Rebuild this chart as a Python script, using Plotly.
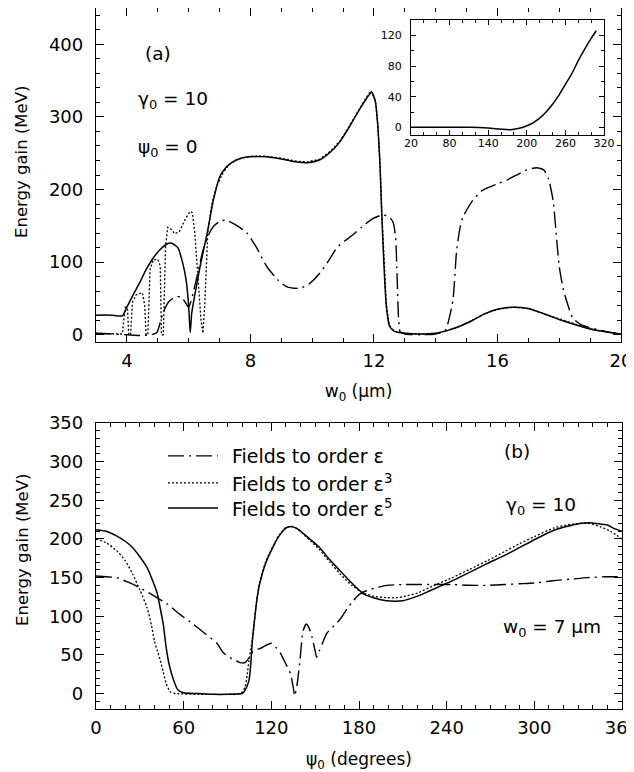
import plotly.graph_objects as go

# ---------------- Panel (a): energy gain vs w0 ----------------
w0_solid = [3.0, 3.5, 3.85, 4.0, 4.2, 4.42, 4.6, 4.81, 5.07, 5.3, 5.45, 5.65, 5.8, 5.92, 6.0, 6.05,
            6.1, 6.2, 6.37, 6.6, 6.8, 7.01, 7.2, 7.43, 7.7, 8.0, 8.5, 9.0, 9.5, 9.85, 10.25, 10.6,
            10.9, 11.2, 11.5, 11.77, 11.93, 12.05, 12.12, 12.2, 12.25, 12.32, 12.4, 12.5, 12.65,
            13.0, 13.5, 14.0, 14.4, 14.8, 15.2, 15.6, 16.0, 16.5, 17.0, 17.5, 18.0, 18.5, 19.0,
            19.5, 20.0]
gain_solid = [27, 27, 26, 38, 55, 72, 88, 103, 117, 125, 126, 120, 100, 75, 40, 3,
              30, 55, 94, 140, 185, 218, 230, 238, 243, 245, 245, 242, 238, 237, 241, 252,
              266, 286, 308, 326, 334, 320, 290, 230, 170, 100, 40, 12, 5,
              2, 1, 2, 6, 12, 20, 29, 35, 38, 36, 29, 21, 14, 8,
              4, 1]

w0_dot = [3.0, 3.5, 3.85, 3.9, 3.95, 4.02, 4.06, 4.12, 4.18, 4.3, 4.5, 4.58, 4.62, 4.68, 4.75,
          4.85, 5.0, 5.08, 5.12, 5.18, 5.25, 5.32, 5.4, 5.55, 5.7, 5.9, 6.05, 6.12, 6.2, 6.3,
          6.4, 6.46, 6.52, 6.62, 6.75, 6.9, 7.1, 7.3, 7.6, 8.0, 8.5, 9.0, 9.5, 9.85, 10.25,
          10.6, 10.9, 11.2, 11.5, 11.77, 11.9, 12.05, 12.12, 12.2, 12.25, 12.32, 12.4, 12.5,
          12.65, 13.0, 13.5, 14.0, 14.4, 14.8, 15.2, 15.6, 16.0, 16.5, 17.0, 17.5, 18.0, 18.5,
          19.0, 19.5, 20.0]
gain_dot = [2, 1, 1, 20, 38, 36, 0, 0, 45, 55, 58, 40, 0, 0, 90,
            103, 104, 95, 0, 0, 120, 148, 147, 139, 142, 160, 170, 168, 140, 80,
            20, 2, 40, 140, 180, 204, 222, 234, 242, 246, 246, 243, 239, 238, 242,
            253, 267, 287, 309, 328, 336, 322, 292, 232, 172, 102, 42, 13,
            5, 2, 1, 2, 6, 12, 20, 29, 35, 38, 36, 29, 21, 14,
            8, 4, 1]

w0_dd = [3.0, 3.5, 4.0, 4.5, 4.8, 4.97, 5.1, 5.17, 5.35, 5.56, 5.75, 5.9, 6.0, 6.1, 6.27, 6.47,
         6.65, 6.8, 7.0, 7.2, 7.5, 7.89, 8.2, 8.53, 8.9, 9.18, 9.6, 9.9, 10.25, 10.55, 10.8,
         11.05, 11.3, 11.6, 11.96, 12.29, 12.5, 12.62, 12.7, 12.75, 12.8, 12.85, 13.0, 13.5,
         14.0, 14.3, 14.45, 14.56, 14.68, 14.8, 14.88, 15.2, 15.52, 16.0, 16.3, 16.95, 17.27,
         17.5, 17.65, 17.8, 17.92, 18.0, 18.12, 18.25, 18.44, 18.7, 18.98, 19.54, 20.0]
gain_dd = [2, 1, 0, -1, 0, 3, 20, 30, 45, 52, 52, 44, 38, 50, 80, 117,
           138, 149, 156, 158, 152, 140, 120, 94, 75, 66, 64, 70, 85, 103, 120,
           129, 137, 148, 160, 165, 162, 155, 135, 80, 20, 4, 1, 0,
           1, 5, 25, 48, 117, 150, 162, 185, 199, 208, 213, 227, 230,
           227, 215, 185, 130, 94, 65, 45, 23, 14, 10, 4, 1]

# Inset of panel (a)
inset_x = [20, 50, 80, 110, 140, 160, 175, 190, 200, 210, 220, 230, 240, 250, 260, 270, 280,
           290, 300, 308]
inset_y = [0, 0, 0, 0, -1, -2.5, -3, -1, 2, 6, 12, 20, 30, 42, 56, 70, 87, 102, 116, 126]

# ---------------- Panel (b): energy gain vs psi0 ----------------
psi_solid = [0, 7, 14, 20, 25, 30, 35, 40, 42, 44, 46, 48, 50, 53, 56, 60, 70, 80, 90, 100,
             102, 104.7, 106, 107, 108.5, 110, 112, 116, 121, 125, 130, 133, 137, 142, 147,
             153, 160, 167, 175, 183, 190, 199, 205, 210, 220, 228.6, 244, 256, 267.6, 280,
             290, 300, 313, 322, 331, 338, 343, 350, 354, 360]
gainb_solid = [212, 210, 204, 197, 189, 177, 163, 140, 129, 110, 90, 60, 38, 18, 5, 1, 0, -1,
               -1, 0, 4, 17, 40, 68, 95, 120, 142, 168, 189, 203, 214, 216, 214, 207, 199,
               189, 173, 159, 143, 129, 124, 120, 119.5, 120, 126, 133, 146, 157, 168, 179,
               189, 199, 211, 216, 220, 221, 220, 218, 214, 210]

psi_dot = [0, 7, 14, 20, 25, 30, 35, 38, 40, 42, 44, 46, 48, 51, 55, 70, 90, 98, 100, 102,
           103.5, 104.7, 106, 107, 108.5, 110, 112, 116, 121, 125, 130, 134, 138, 142, 147,
           153, 160, 167, 175, 183, 190, 199, 206, 212, 220, 228, 244, 256, 268, 280, 290,
           300, 313, 322, 331, 338, 345, 352, 360]
gainb_dot = [200, 195, 185, 172, 155, 134, 111, 88, 68, 55, 43, 28, 13, 2, 0, -1, -1, 0, 2,
             8, 25, 43, 58, 70, 95, 120, 143, 170, 190, 204, 215, 216, 213, 206, 197, 186,
             170, 155, 140, 130, 126, 124, 124, 126, 130, 137, 150, 161, 172, 184, 194, 203,
             214, 218, 220, 220, 216, 210, 200]

psi_dd = [0, 7, 14, 22, 30, 40, 48.6, 57, 66.4, 75, 82.8, 87, 93, 98.6, 102, 105, 107.6, 112,
          116, 120, 123, 126, 130, 133, 135, 136, 137.5, 139.6, 141.7, 144, 146, 148, 150,
          151, 153, 155, 158, 162, 167, 172, 176, 180, 185, 192, 199, 210, 222, 232, 244, 255,
          267, 280, 290, 300, 313, 325, 336, 348, 360]
gainb_dd = [152, 151, 150, 144, 137, 126, 116, 103, 90, 77, 65, 53, 45, 40, 40, 47, 55, 58,
            62, 65, 60, 53, 38, 26, 8, -3, 10, 43, 81, 90, 84, 72, 55, 47, 56, 65, 78, 86,
            96, 110, 120, 128, 133, 137, 140, 141, 141, 141, 141, 140, 140, 141, 142, 143,
            146, 148, 150, 151, 151]

legend_labels = ["Fields to order \u03b5", "Fields to order \u03b5<sup>3</sup>",
                 "Fields to order \u03b5<sup>5</sup>"]

FONT = "DejaVu Sans, Liberation Sans, Arial, sans-serif"
DD = "16px,5px,2px,5px"
DOT = "2px,2px"

fig = go.Figure()
# Panel (a)
fig.add_trace(go.Scatter(x=w0_dd, y=gain_dd, mode="lines", xaxis="x", yaxis="y",
                         line=dict(color="black", width=1.4, dash=DD, shape="spline", smoothing=0.6)))
fig.add_trace(go.Scatter(x=w0_dot, y=gain_dot, mode="lines", xaxis="x", yaxis="y",
                         line=dict(color="black", width=1.3, dash=DOT)))
fig.add_trace(go.Scatter(x=w0_solid, y=gain_solid, mode="lines", xaxis="x", yaxis="y",
                         line=dict(color="black", width=1.5, shape="spline", smoothing=0.6)))
# Inset
fig.add_trace(go.Scatter(x=inset_x, y=inset_y, mode="lines", xaxis="x3", yaxis="y3",
                         line=dict(color="black", width=1.5, shape="spline", smoothing=0.8)))
# Panel (b)
fig.add_trace(go.Scatter(x=psi_dd, y=gainb_dd, mode="lines", xaxis="x2", yaxis="y2",
                         line=dict(color="black", width=1.4, dash=DD, shape="spline", smoothing=0.6)))
fig.add_trace(go.Scatter(x=psi_dot, y=gainb_dot, mode="lines", xaxis="x2", yaxis="y2",
                         line=dict(color="black", width=1.3, dash=DOT, shape="spline", smoothing=0.6)))
fig.add_trace(go.Scatter(x=psi_solid, y=gainb_solid, mode="lines", xaxis="x2", yaxis="y2",
                         line=dict(color="black", width=1.5, shape="spline", smoothing=0.6)))


def ax(**kw):
    base = dict(showline=True, linecolor="black", linewidth=1.3, mirror="allticks",
                ticks="inside", ticklen=8, tickwidth=1.3, tickcolor="black",
                showgrid=False, zeroline=False, automargin=False,
                tickfont=dict(family=FONT, size=18, color="black"),
                minor=dict(ticks="inside", ticklen=4, tickwidth=1.1, tickcolor="black",
                           showgrid=False))
    for k, v in kw.items():
        if k == "minor":
            base["minor"].update(v)
        else:
            base[k] = v
    return base


# The page body adds an 8 px offset. The figure is a little wider than the window so the
# last tick label of panel (b) is drawn and clipped by the window edge as in the original.
W, H = 650, 764
ML, MR, MT, MB = 88, 36, 0, 63
PH = H - MT - MB  # plot-area height in px
PW = W - ML - MR


def ydom(top_px, bot_px):
    # pixel rows measured on the 634x772 reference (8 px page offset removed)
    return [(H - MB - (bot_px - 8)) / PH, (H - MB - (top_px - 8)) / PH]


def xdom(l_px, r_px):
    return [(l_px - 8 - ML) / PW, (r_px - 8 - ML) / PW]


def px_x(screen_px):
    return (screen_px - 8 - ML) / PW


def px_y(screen_px):
    return (H - MB - (screen_px - 8)) / PH


fig.update_layout(
    template="none",
    width=W, height=H,
    margin=dict(l=ML, r=MR, t=MT, b=MB, autoexpand=False),
    paper_bgcolor="white", plot_bgcolor="white",
    showlegend=False,
    font=dict(family=FONT, color="black"),
    xaxis=ax(domain=xdom(96, 621), anchor="y", range=[3, 20], tick0=0, dtick=4,
             minor=dict(dtick=1, tick0=0), ticklabelstandoff=2,
             title=dict(text="w<sub>0</sub> (\u03bcm)", font=dict(size=17), standoff=15)),
    yaxis=ax(domain=ydom(8, 342), anchor="x", range=[-10, 450], tick0=0, dtick=100,
             minor=dict(dtick=20, tick0=0), ticklabelstandoff=8),
    xaxis2=ax(domain=xdom(96, 622), anchor="y2", range=[0, 360], tick0=0, dtick=60,
              minor=dict(dtick=10, tick0=0), ticklabelstandoff=2,
              title=dict(text="\u03c8<sub>0</sub> (degrees)", font=dict(size=17), standoff=21)),
    yaxis2=ax(domain=ydom(423, 709), anchor="x2", range=[-20, 350], tick0=0, dtick=50,
              minor=dict(dtick=10, tick0=0), ticklabelstandoff=8),
    xaxis3=ax(domain=xdom(411, 604), anchor="y3", range=[20, 320],
              tick0=20, dtick=60, ticklen=5, linewidth=1.2, tickwidth=1.1,
              minor=dict(dtick=20, tick0=0, ticklen=3),
              tickfont=dict(family=FONT, size=11, color="black"), ticklabelstandoff=-2),
    yaxis3=ax(domain=ydom(20, 135), anchor="x3", range=[-10, 140],
              tick0=0, dtick=40, ticklen=5, linewidth=1.2, tickwidth=1.1,
              minor=dict(dtick=20, tick0=0, ticklen=3),
              tickfont=dict(family=FONT, size=11, color="black"), ticklabelstandoff=6),
)

ann_font = dict(family=FONT, size=18.5, color="black")
leg_font = dict(family=FONT, size=19, color="black")
title_font = dict(family=FONT, size=16.5, color="black")
annotations = [
    # y-axis titles (placed as in the original, slightly above the panel centres)
    dict(text="Energy gain (MeV)", textangle=-90, x=px_x(22), y=px_y(162), xref="paper",
         yref="paper", showarrow=False, font=title_font, xanchor="center", yanchor="middle"),
    dict(text="Energy gain (MeV)", textangle=-90, x=px_x(22), y=px_y(550), xref="paper",
         yref="paper", showarrow=False, font=title_font, xanchor="center", yanchor="middle"),
    dict(text="(a)", x=5.0, y=388, xref="x", yref="y", showarrow=False, font=ann_font),
    dict(text="\u03b3<sub>0</sub> = 10", x=4.3, y=323, xref="x", yref="y", showarrow=False,
         xanchor="left", font=ann_font),
    dict(text="\u03c8<sub>0</sub> = 0", x=4.3, y=257, xref="x", yref="y", showarrow=False,
         xanchor="left", font=ann_font),
    dict(text="(b)", x=288, y=313, xref="x2", yref="y2", showarrow=False, font=ann_font),
    dict(text="\u03b3<sub>0</sub> = 10", x=279, y=243, xref="x2", yref="y2", showarrow=False,
         xanchor="left", font=ann_font),
    dict(text="w<sub>0</sub> = 7 \u03bcm", x=277, y=85, xref="x2", yref="y2", showarrow=False,
         xanchor="left", font=ann_font),
]
# legend rows for panel (b)
leg_y = [307.5, 272.6, 240]
leg_dash = [DD, DOT, "solid"]
for lab, yy, dsh in zip(legend_labels, leg_y, leg_dash):
    annotations.append(dict(text=lab, x=92, y=yy, xref="x2", yref="y2", showarrow=False,
                            xanchor="left", font=leg_font))
    fig.add_shape(type="line", xref="x2", yref="y2", x0=49.3, x1=83.5, y0=yy, y1=yy,
                  line=dict(color="black", width=1.4 if dsh != DOT else 1.3, dash=dsh))
fig.update_layout(annotations=annotations)

fig.write_html("out.html")
